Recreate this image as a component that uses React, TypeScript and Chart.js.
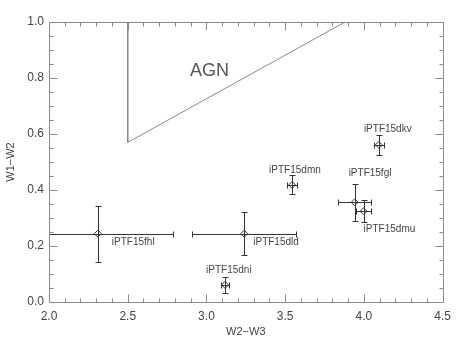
import React, { useEffect, useRef } from "react";
import { Chart, registerables } from "chart.js";

Chart.register(...registerables);

// ---- data ----
const names = ["iPTF15fhl", "iPTF15dld", "iPTF15dni", "iPTF15dmn", "iPTF15fgl", "iPTF15dmu", "iPTF15dkv"];
const w2w3 = [2.31, 3.24, 3.118, 3.544, 3.941, 3.998, 4.095];
const w1w2 = [0.244, 0.244, 0.061, 0.418, 0.356, 0.324, 0.561];
const w2w3Err = [0.475, 0.33, 0.023, 0.03, 0.107, 0.05, 0.03];
const w1w2Err = [0.1, 0.076, 0.03, 0.034, 0.067, 0.04, 0.035];

// AGN wedge boundary
const agnX = [2.5, 2.5, 3.88];
const agnY = [1.0, 0.57, 1.0];
const agnText = "AGN";
const agnTextAt = { x: 3.02, y: 0.824 };

const xTickLabels = ["2.0", "2.5", "3.0", "3.5", "4.0", "4.5"];
const yTickLabels = ["0.0", "0.2", "0.4", "0.6", "0.8", "1.0"];

// label placement (pixel offsets from point, layout only)
const labelOffsets = [
  [14, 9], [9, 9], [-19, -15], [-23, -15], [-6, -29], [0, 18], [-15, -16],
];

const AXIS_COLOR = "#8c8c8c";
const DATA_COLOR = "#333333";
const TEXT_COLOR = "#444444";
const FONT = "'Liberation Sans', Arial, sans-serif";

const framePlugin = {
  id: "frame",
  afterDraw(chart: any) {
    const { ctx, chartArea: a, scales } = chart;
    const xs = scales.x, ys = scales.y;
    const L = Math.round(a.left) + 0.5, R = Math.round(a.right) + 0.5;
    const T = Math.round(a.top) + 0.5, B = Math.round(a.bottom) + 0.5;
    ctx.save();
    ctx.strokeStyle = AXIS_COLOR;
    ctx.lineWidth = 1;
    ctx.beginPath();
    ctx.moveTo(L, T); ctx.lineTo(R, T); ctx.lineTo(R, B); ctx.lineTo(L, B); ctx.closePath();
    for (let i = 0; i <= 25; i++) {
      const v = 2 + i * 0.1;
      const px = Math.round(xs.getPixelForValue(v)) + 0.5;
      const len = i % 5 === 0 ? 8 : 4;
      ctx.moveTo(px, B);
      ctx.lineTo(px, B - len);
      ctx.moveTo(px, T);
      ctx.lineTo(px, T + len);
    }
    for (let i = 0; i <= 20; i++) {
      const v = i * 0.05;
      const py = Math.round(ys.getPixelForValue(v)) + 0.5;
      const len = i % 4 === 0 ? 8 : 4;
      ctx.moveTo(L, py);
      ctx.lineTo(L + len, py);
      ctx.moveTo(R, py);
      ctx.lineTo(R - len, py);
    }
    ctx.stroke();
    ctx.restore();
  },
};

const errorBarPlugin = {
  id: "errbars",
  beforeDatasetsDraw(chart: any) {
    const { ctx, chartArea: a, scales } = chart;
    const xs = scales.x, ys = scales.y;
    ctx.save();
    ctx.beginPath();
    ctx.rect(a.left, a.top, a.right - a.left, a.bottom - a.top);
    ctx.clip();
    ctx.strokeStyle = DATA_COLOR;
    ctx.lineWidth = 1;
    const cap = 3;
    ctx.beginPath();
    for (let i = 0; i < w2w3.length; i++) {
      const cx = Math.round(xs.getPixelForValue(w2w3[i])) + 0.5;
      const cy = Math.round(ys.getPixelForValue(w1w2[i])) + 0.5;
      const x0 = Math.round(xs.getPixelForValue(w2w3[i] - w2w3Err[i])) + 0.5;
      const x1 = Math.round(xs.getPixelForValue(w2w3[i] + w2w3Err[i])) + 0.5;
      const y0 = Math.round(ys.getPixelForValue(w1w2[i] - w1w2Err[i])) + 0.5;
      const y1 = Math.round(ys.getPixelForValue(w1w2[i] + w1w2Err[i])) + 0.5;
      ctx.moveTo(x0, cy); ctx.lineTo(x1, cy);
      ctx.moveTo(x0, cy - cap); ctx.lineTo(x0, cy + cap);
      ctx.moveTo(x1, cy - cap); ctx.lineTo(x1, cy + cap);
      ctx.moveTo(cx, y0); ctx.lineTo(cx, y1);
      ctx.moveTo(cx - cap, y0); ctx.lineTo(cx + cap, y0);
      ctx.moveTo(cx - cap, y1); ctx.lineTo(cx + cap, y1);
    }
    ctx.stroke();
    ctx.restore();
  },
  afterDatasetsDraw(chart: any) {
    const { ctx, scales } = chart;
    const xs = scales.x, ys = scales.y;
    ctx.save();
    ctx.fillStyle = TEXT_COLOR;
    ctx.font = `10px ${FONT}`;
    ctx.textAlign = "left";
    ctx.textBaseline = "middle";
    for (let i = 0; i < names.length; i++) {
      const cx = xs.getPixelForValue(w2w3[i]);
      const cy = ys.getPixelForValue(w1w2[i]);
      ctx.fillText(names[i], cx + labelOffsets[i][0], cy + labelOffsets[i][1]);
    }
    ctx.font = `300 18px ${FONT}`;
    ctx.fillStyle = "#555555";
    ctx.textAlign = "center";
    ctx.fillText(agnText, xs.getPixelForValue(agnTextAt.x), ys.getPixelForValue(agnTextAt.y));
    ctx.restore();
  },
};

export default function App() {
  const ref = useRef<HTMLCanvasElement>(null);
  useEffect(() => {
    document.body.style.margin = "0";
    const chart = new Chart(ref.current!, {
      type: "scatter",
      data: {
        datasets: [
          {
            data: w2w3.map((x, i) => ({ x, y: w1w2[i] })),
            pointStyle: "rectRot",
            pointRadius: 3.5,
            pointBorderWidth: 1,
            borderColor: DATA_COLOR,
            backgroundColor: "rgba(0,0,0,0)",
          },
          {
            data: agnX.map((x, i) => ({ x, y: agnY[i] })),
            showLine: true,
            pointRadius: 0,
            borderColor: "#8a8a8a",
            borderWidth: 1,
            backgroundColor: "rgba(0,0,0,0)",
          },
        ],
      },
      options: {
        animation: false,
        responsive: false,
        maintainAspectRatio: false,
        layout: { padding: { top: 22, right: 14, left: 0, bottom: 0 } },
        plugins: { legend: { display: false }, tooltip: { enabled: false } },
        scales: {
          x: {
            type: "linear",
            min: 2,
            max: 4.5,
            afterFit: (s: any) => { s.height = 52; },
            grid: { display: false, drawTicks: false },
            border: { display: false },
            ticks: {
              stepSize: 0.5,
              padding: 7,
              color: TEXT_COLOR,
              font: { family: FONT, size: 12 },
              maxRotation: 0,
              callback: (v: any) => xTickLabels[Math.round((Number(v) - 2) / 0.5)] ?? "",
            },
            title: {
              display: true,
              text: "W2\u2212W3",
              color: TEXT_COLOR,
              font: { family: FONT, size: 11 },
              padding: { top: 0, bottom: 15 },
            },
          },
          y: {
            type: "linear",
            min: 0,
            max: 1.0,
            afterFit: (s: any) => { s.width = 49; },
            grid: { display: false, drawTicks: false },
            border: { display: false },
            ticks: {
              stepSize: 0.2,
              padding: 5,
              color: TEXT_COLOR,
              font: { family: FONT, size: 12 },
              callback: (v: any) => yTickLabels[Math.round(Number(v) / 0.2)] ?? "",
            },
            title: {
              display: true,
              text: "W1\u2212W2",
              color: TEXT_COLOR,
              font: { family: FONT, size: 11 },
              padding: { top: 4, bottom: 0 },
            },
          },
        },
      },
      plugins: [errorBarPlugin, framePlugin],
    });
    return () => chart.destroy();
  }, []);
  return (
    <div style={{ width: 458, height: 354, background: "#fff" }}>
      <canvas ref={ref} width={458} height={354} style={{ display: "block" }} />
    </div>
  );
}
